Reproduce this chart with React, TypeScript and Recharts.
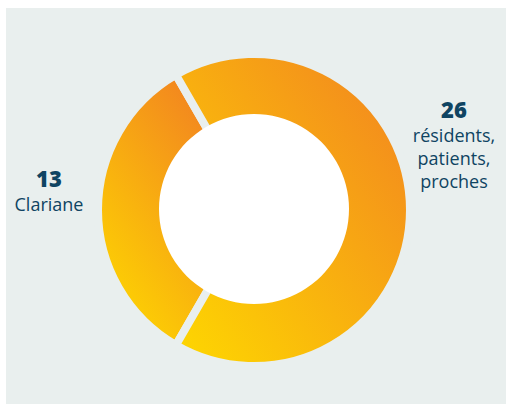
import React from "react";
import { PieChart, Pie, Cell } from "recharts";

// shares of participants
const names = ["Clariane", "résidents, patients, proches"];
const values = [13, 26];
const labelLines = [["Clariane"], ["résidents,", "patients,", "proches"]];
// label placement relative to the slice (dx from outer edge, dy from centre)
const labelShift = [
    { dx: -53, dy: -23 },
    { dx: 48, dy: -92 },
];
const fills = ["url(#warmNarrow)", "url(#warm)"];

const BG = "#e9efee";
const NAVY = "#0f4462";

const data = names.map((name, i) => ({ name, value: values[i] }));
const hole = [{ name: "hole", value: 1 }];

const renderLabel = (props: any) => {
    const { cx, cy, midAngle, outerRadius, index } = props;
    const rad = (Math.PI / 180) * midAngle;
    const shift = labelShift[index];
    const x = cx + (outerRadius - 4) * Math.cos(rad) + shift.dx;
    const y = cy - (outerRadius - 4) * Math.sin(rad) + shift.dy;
    return (
        <text x={x} y={y} textAnchor="middle" fill={NAVY} fontFamily="'Open Sans', sans-serif">
            <tspan x={x} dy={0} fontSize={22} fontWeight={800}>
                {values[index]}
            </tspan>
            {labelLines[index].map((line, i) => (
                <tspan key={line} x={x} dy={i === 0 ? 24 : 23} fontSize={18}>
                    {line}
                </tspan>
            ))}
        </text>
    );
};

const App: React.FC = () => {
    return (
        <div style={{ position: "absolute", left: 0, top: 0, width: 506, height: 404 }}>
            <div style={{ position: "absolute", left: 6, top: 8, width: 500, height: 396, background: BG }} />
            <div style={{ position: "absolute", left: 0, top: 0 }}>
                <PieChart width={506} height={404} margin={{ top: 0, right: 0, bottom: 0, left: 0 }}>
                    <defs>
                        <linearGradient id="warm" x1="0" y1="1" x2="1" y2="0">
                            <stop offset="0%" stopColor="#fed800" />
                            <stop offset="100%" stopColor="#f28221" />
                        </linearGradient>
                        <linearGradient id="warmNarrow" x1="0.2" y1="1" x2="0.8" y2="0">
                            <stop offset="0%" stopColor="#fed800" />
                            <stop offset="100%" stopColor="#f28221" />
                        </linearGradient>
                    </defs>
                    <Pie
                        data={data}
                        dataKey="value"
                        cx={254}
                        cy={210}
                        startAngle={120}
                        endAngle={480}
                        innerRadius={70}
                        outerRadius={156}
                        stroke={BG}
                        strokeWidth={8}
                        label={renderLabel}
                        labelLine={false}
                        isAnimationActive={false}
                    >
                        {data.map((entry, index) => (
                            <Cell key={`cell-${index}`} fill={fills[index]} />
                        ))}
                    </Pie>
                    <Pie
                        data={hole}
                        dataKey="value"
                        cx={254}
                        cy={209}
                        innerRadius={0}
                        outerRadius={95}
                        fill="#ffffff"
                        stroke="none"
                        isAnimationActive={false}
                    />
                </PieChart>
            </div>
        </div>
    );
};

export default App;
